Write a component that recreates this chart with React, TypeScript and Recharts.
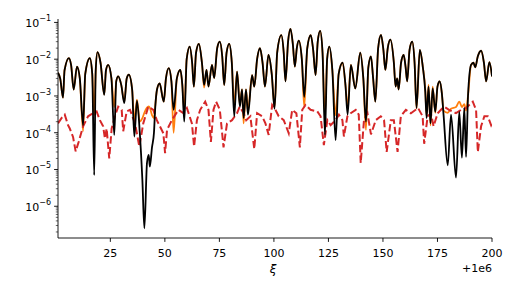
import { LineChart, Line, XAxis, YAxis } from "recharts";

// xi offsets (+1e6) where the black curve turns, and its values
const blackX = [
  1, 2, 3.3, 4, 6, 7, 8.2, 9.7, 11, 12.5,
  13.5, 15.6, 16.7, 17.6, 18.3, 19.1, 20.5, 22.2, 23, 24,
  25.5, 26.8, 27.7, 28.6, 30, 31.4, 32.5, 33.5, 35, 36,
  37.2, 38.5, 39.7, 40.6, 41.8, 42.6, 43.1, 44.1, 45, 45.6,
  46.4, 47.6, 49.5, 50.5, 51.8, 53, 54, 55.5, 57.1, 58,
  58.9, 60, 61.4, 62.5, 63.3, 64.3, 65.6, 67, 68, 69.1,
  70, 71.6, 72.6, 74, 75.2, 76.3, 77.2, 78.3, 79.5, 80.7,
  81.8, 83.1, 84.4, 85.4, 86.1, 87.2, 88.1, 90, 91, 92.3,
  93.6, 94.8, 95.9, 97.5, 99, 100.3, 101.5, 103.4, 104.5, 105.3,
  106.5, 107.6, 108.7, 109.6, 110.5, 111.4, 112.8, 113.9, 115.3, 116.9,
  118, 119.1, 120.1, 121.2, 122.3, 123.4, 124.4, 125.4, 126.8, 128.3,
  129.7, 131.5, 132.8, 133.8, 135.3, 137.3, 139.6, 141, 142.2, 143.3,
  144.5, 145.5, 146.5, 147.8, 149.1, 150.2, 151.1, 152.2, 153.4, 155,
  155.8, 156.5, 157.2, 158.3, 159.5, 160.4, 161.1, 162.2, 163.4, 164.5,
  165.4, 166.9, 168.3, 169.4, 170, 170.9, 171.8, 172.8, 174, 175,
  176, 177, 177.8, 179.7, 181.2, 183.5, 185, 186.2, 187.3, 188.1,
  189, 190.4, 191.5, 192.3, 193.5, 195, 196.3, 197.3, 198.8, 200,
];

const blackY = [
  4.3e-3, 3e-3, 9e-4, 5e-3, 1.07e-2, 7e-3, 1.5e-3, 6.3e-3, 3e-3, 1.6e-4,
  4e-3, 1.07e-2, 4e-3, 7e-6, 5e-3, 1.55e-2, 8e-3, 1.07e-3, 5e-3, 7e-3,
  3e-3, 8.7e-5, 2.5e-3, 3.4e-3, 2e-3, 6.4e-4, 3e-3, 3.8e-3, 1.5e-3, 7.9e-5,
  7.4e-4, 1e-4, 5e-6, 2.5e-7, 1.5e-5, 2.5e-5, 1.2e-5, 4e-5, 1e-4, 5e-4,
  1.5e-3, 2.2e-3, 7e-4, 3e-3, 5.7e-3, 2.5e-3, 4.2e-4, 3e-3, 5.1e-3, 2e-3,
  2e-4, 1e-2, 2.2e-2, 8e-3, 1.8e-3, 1.5e-2, 2.6e-2, 8e-3, 2e-3, 5.1e-3,
  1.8e-3, 7e-3, 3.1e-3, 2e-2, 3e-2, 1.2e-2, 2e-3, 1.5e-2, 2.6e-2, 8e-3,
  2.8e-4, 4.6e-3, 5.1e-4, 1.5e-3, 2.5e-4, 1.5e-3, 3.1e-4, 3.7e-3, 1.8e-3, 1e-2,
  2e-2, 8e-3, 1.8e-3, 1.3e-2, 4e-3, 4.5e-4, 1.5e-2, 4.5e-2, 1.5e-2, 2.5e-3,
  3e-2, 6.7e-2, 2.5e-2, 6.3e-3, 2e-2, 3.2e-2, 1e-2, 9.5e-4, 2e-2, 4.5e-2,
  1.8e-2, 3.7e-3, 3e-2, 5.9e-2, 1.5e-2, 8.7e-5, 1e-2, 2.2e-2, 5e-3, 6.3e-5,
  4e-3, 8.1e-3, 2e-3, 3.1e-4, 7e-3, 1.6e-3, 1.5e-2, 3e-3, 2e-4, 6e-3,
  1.2e-2, 3e-3, 7e-4, 2e-2, 4.6e-2, 1.8e-2, 5.1e-3, 2e-2, 3.4e-2, 8e-3,
  1.8e-3, 3e-3, 1.5e-3, 8e-3, 1.3e-2, 6e-3, 2.5e-3, 1.8e-2, 3e-2, 8e-3,
  4.7e-4, 1.8e-2, 6e-3, 1.3e-3, 2.5e-4, 1.8e-3, 1.8e-4, 1.6e-3, 3.7e-4, 1.8e-3,
  2.5e-3, 1.2e-3, 3e-4, 1.3e-5, 3.1e-4, 6e-6, 3.7e-4, 2.1e-5, 4.7e-4, 2.2e-5,
  1e-3, 7e-3, 8e-3, 6e-3, 1.2e-2, 1.7e-2, 8e-3, 2.5e-3, 8.3e-3, 3.4e-3,
];

// orange series, read at the same xi as the black one
const orangeY = [
  4.3e-3, 3e-3, 9e-4, 5e-3, 1.07e-2, 7e-3, 1.5e-3, 6.3e-3, 3e-3, 1.1e-4,
  4e-3, 1.07e-2, 4e-3, 3e-4, 5e-3, 1.55e-2, 8e-3, 1.1e-3, 5e-3, 7e-3,
  3e-3, 5e-4, 2.5e-3, 3.4e-3, 2e-3, 7e-4, 3e-3, 3.8e-3, 1.5e-3, 2e-4,
  8e-4, 2e-4, 2.5e-4, 3.5e-4, 4.8e-4, 5.2e-4, 4.8e-4, 3e-4, 2.5e-4, 5.5e-4,
  1.5e-3, 2.2e-3, 7e-4, 3e-3, 5.7e-3, 2.5e-3, 1e-4, 3e-3, 5.1e-3, 2e-3,
  4e-4, 1e-2, 2.2e-2, 8e-3, 1.8e-3, 1.5e-2, 2.6e-2, 8e-3, 1.7e-3, 5.1e-3,
  1.8e-3, 7e-3, 3.1e-3, 2e-2, 3e-2, 1.2e-2, 2e-3, 1.5e-2, 2.6e-2, 8e-3,
  5.5e-4, 4.6e-3, 6e-4, 1.5e-3, 1.8e-4, 1.5e-3, 4e-4, 3.7e-3, 1.8e-3, 1e-2,
  2e-2, 8e-3, 1.8e-3, 1.3e-2, 4e-3, 5e-4, 1.5e-2, 4.5e-2, 1.5e-2, 2.5e-3,
  3e-2, 6.7e-2, 2.5e-2, 6.3e-3, 2e-2, 3.2e-2, 1e-2, 5e-4, 2e-2, 4.5e-2,
  1.8e-2, 3.7e-3, 3e-2, 5.9e-2, 1.5e-2, 3e-4, 1e-2, 2.2e-2, 5e-3, 3e-4,
  4e-3, 8.1e-3, 2e-3, 5e-4, 7e-3, 1.6e-3, 1.5e-2, 3e-3, 1.2e-4, 6e-3,
  1.2e-2, 3e-3, 7e-4, 2e-2, 4.6e-2, 1.8e-2, 5.1e-3, 2e-2, 3.4e-2, 8e-3,
  1.8e-3, 3e-3, 1.5e-3, 8e-3, 1.3e-2, 6e-3, 2.5e-3, 1.8e-2, 3e-2, 8e-3,
  4.5e-4, 1.8e-2, 6e-3, 1.5e-3, 3e-4, 2e-3, 1.6e-4, 1.8e-3, 3.5e-4, 1.8e-3,
  2.5e-3, 1.2e-3, 4e-4, 3.5e-4, 4.5e-4, 5e-4, 7e-4, 5e-4, 6e-4, 4e-4,
  1e-3, 7e-3, 8e-3, 6e-3, 1.2e-2, 1.7e-2, 8e-3, 2.5e-3, 8.3e-3, 3.4e-3,
];

const redX = [
  1, 2.6, 4.1, 5.6, 6.4, 7.9, 9.1, 10.5, 12.5, 14.8,
  16, 18.7, 20.2, 21.7, 22.5, 23.3, 24.5, 25.6, 27.1, 28.6,
  30.2, 30.9, 32.5, 34, 36.3, 38.3, 40.1, 42.4, 44.7, 46.3,
  49.3, 50.1, 51, 53.2, 56.2, 58.5, 60.1, 62.4, 63.4, 64.7,
  66.2, 68.5, 70, 71.1, 72.3, 73.5, 75.2, 76.9, 78.5, 80.8,
  83.1, 84.3, 86.1, 87.3, 89.2, 91, 92.3, 94.6, 96.1, 97.6,
  99.2, 100.7, 102.2, 104.5, 106.8, 108.4, 110.3, 111.9, 113, 114.5,
  116.8, 119.9, 121.4, 122.9, 124.5, 126, 128.3, 129.8, 131.4, 132.1,
  133.7, 135.2, 137.5, 138.9, 139.8, 141.3, 142.9, 144.5, 146.7, 149,
  150.5, 151.7, 153.6, 155, 156.7, 158.2, 160.5, 162.8, 166.1, 168.2,
  168.9, 170.5, 172, 173.2, 175.1, 176.6, 178.1, 180.3, 183.5, 185.8,
  188.1, 191.2, 192.7, 193.5, 195, 196.5, 198.1, 199.6, 200,
];

const redY = [
  1.8e-4, 2.5e-4, 3.1e-4, 1.6e-4, 1.3e-4, 7.7e-5, 3.1e-5, 5.7e-5, 1.5e-4, 2.8e-4,
  3.1e-4, 3.8e-4, 2.2e-4, 1.5e-4, 7e-5, 1.3e-4, 2e-5, 1.3e-4, 2.8e-4, 5.1e-4,
  4.2e-4, 1.1e-4, 3.8e-4, 4.2e-4, 1.8e-4, 4.2e-5, 1.8e-4, 5.1e-4, 4.2e-4, 2.2e-4,
  9.7e-5, 2.8e-5, 1.2e-4, 2.2e-4, 4.2e-4, 3.4e-4, 4.7e-4, 1.8e-4, 4.2e-5, 2.2e-4,
  4.2e-4, 7e-4, 4.2e-4, 5.6e-5, 4.2e-4, 7e-4, 4.2e-4, 4e-5, 1.8e-4, 2.2e-4,
  3.4e-4, 5.1e-4, 3.4e-4, 2.2e-4, 2.8e-4, 3.6e-5, 3.4e-4, 2.8e-4, 1.8e-4, 8.7e-5,
  5.7e-4, 4.2e-4, 2.8e-4, 2.2e-4, 9.7e-5, 4.2e-4, 3.4e-4, 4e-5, 4.2e-4, 5.7e-4,
  4.2e-4, 3.8e-4, 2.8e-4, 4.6e-5, 2.2e-4, 1.6e-4, 2.2e-4, 3.1e-4, 2.2e-4, 7.9e-5,
  2.8e-4, 3.4e-4, 4.2e-4, 3.1e-4, 1.5e-5, 2.2e-4, 3.4e-4, 9e-5, 2.2e-4, 2.8e-4,
  2.2e-4, 3e-5, 2.2e-4, 2.2e-4, 3e-5, 2.8e-4, 4.2e-4, 3.4e-4, 4.7e-4, 2.8e-4,
  5e-5, 2.8e-4, 3.4e-4, 1.5e-4, 3.4e-4, 4.2e-4, 5.1e-4, 4.2e-4, 3.4e-4, 4.2e-4,
  4.7e-4, 7e-4, 4.2e-4, 3e-5, 1.5e-4, 2.8e-4, 2.8e-4, 1.6e-4, 1.8e-4,
];

const xTicks = [25, 50, 75, 100, 125, 150, 175, 200];
const yTicks = [
  2e-7, 3e-7, 4e-7, 5e-7, 6e-7, 7e-7, 8e-7, 9e-7,
  1e-6, 2e-6, 3e-6, 4e-6, 5e-6, 6e-6, 7e-6, 8e-6, 9e-6,
  1e-5, 2e-5, 3e-5, 4e-5, 5e-5, 6e-5, 7e-5, 8e-5, 9e-5,
  1e-4, 2e-4, 3e-4, 4e-4, 5e-4, 6e-4, 7e-4, 8e-4, 9e-4,
  1e-3, 2e-3, 3e-3, 4e-3, 5e-3, 6e-3, 7e-3, 8e-3, 9e-3,
  1e-2, 2e-2, 3e-2, 4e-2, 5e-2, 6e-2, 7e-2, 8e-2, 9e-2,
  1e-1,
];

const blackData = blackX.map((x, i) => ({ x, y: blackY[i] }));
const orangeData = blackX.map((x, i) => ({ x, y: orangeY[i] }));
const redData = redX.map((x, i) => ({ x, y: redY[i] }));

const FONT = "'DejaVu Sans', sans-serif";
const LEFT = 58;
const BOTTOM = 238;
const yDomain = [1.37e-7, 0.124];

const YTick = (props: any) => {
  const { y, payload } = props;
  const v = payload.value;
  const e = Math.log10(v);
  const major = Math.abs(e - Math.round(e)) < 1e-6;
  return (
    <g>
      <line x1={LEFT} x2={LEFT - (major ? 3.9 : 2.2)} y1={y} y2={y} stroke="#000" strokeWidth={major ? 0.9 : 0.6} />
      {major && (
        <text x={51} y={y + 5} textAnchor="end" fontFamily={FONT} fontSize={11} fill="#000">
          10
          <tspan dy={-6} fontSize={8}>{"\u2212" + Math.abs(Math.round(e))}</tspan>
        </text>
      )}
    </g>
  );
};

const XTick = (props: any) => {
  const { x, payload } = props;
  return (
    <g>
      <line x1={x} x2={x} y1={BOTTOM} y2={BOTTOM + 3.9} stroke="#000" strokeWidth={0.9} />
      <text x={x} y={BOTTOM + 19} textAnchor="middle" fontFamily={FONT} fontSize={11} fill="#000">
        {payload.value}
      </text>
    </g>
  );
};

export default function App() {
  return (
    <div style={{ position: "absolute", left: 0, top: 0, width: 520, height: 300, background: "#fff" }}>
      <LineChart width={520} height={300} margin={{ top: 19, right: 28, bottom: 0, left: 0 }}>
        <XAxis
          xAxisId="b"
          type="number"
          dataKey="x"
          domain={[1, 200]}
          allowDataOverflow
          ticks={xTicks}
          interval={0}
          height={62}
          tickLine={false}
          axisLine={{ stroke: "#000", strokeWidth: 0.9 }}
          tick={(p: any) => <XTick {...p} />}
        />
        <XAxis
          xAxisId="t"
          orientation="top"
          type="number"
          domain={[1, 200]}
          allowDataOverflow
          height={0}
          tick={false}
          tickLine={false}
          axisLine={{ stroke: "#000", strokeWidth: 0.9 }}
        />
        <YAxis
          yAxisId="l"
          type="number"
          scale="log"
          domain={yDomain}
          allowDataOverflow
          ticks={yTicks}
          interval={0}
          width={58}
          tickLine={false}
          axisLine={{ stroke: "#000", strokeWidth: 0.9 }}
          tick={(p: any) => <YTick {...p} />}
        />
        <YAxis
          yAxisId="r"
          orientation="right"
          type="number"
          scale="log"
          domain={yDomain}
          allowDataOverflow
          width={0}
          tick={false}
          tickLine={false}
          axisLine={{ stroke: "#000", strokeWidth: 0.9 }}
        />
        <Line xAxisId="b" yAxisId="l" data={orangeData} dataKey="y" type="monotone" stroke="#ff7f0e" strokeWidth={1.8} dot={false} isAnimationActive={false} />
        <Line xAxisId="b" yAxisId="l" data={redData} dataKey="y" type="linear" stroke="#d62728" strokeWidth={2} strokeDasharray="7.4 3.2" dot={false} isAnimationActive={false} />
        <Line xAxisId="b" yAxisId="l" data={blackData} dataKey="y" type="monotone" stroke="#000" strokeWidth={1.8} dot={false} isAnimationActive={false} />
      </LineChart>
      <div style={{ position: "absolute", left: 263, top: 262, width: 20, textAlign: "center", fontFamily: FONT, fontSize: 12, fontStyle: "italic" }}>ξ</div>
      <div style={{ position: "absolute", left: 440, top: 262, width: 52, textAlign: "right", fontFamily: FONT, fontSize: 11 }}>+1e6</div>
    </div>
  );
}
